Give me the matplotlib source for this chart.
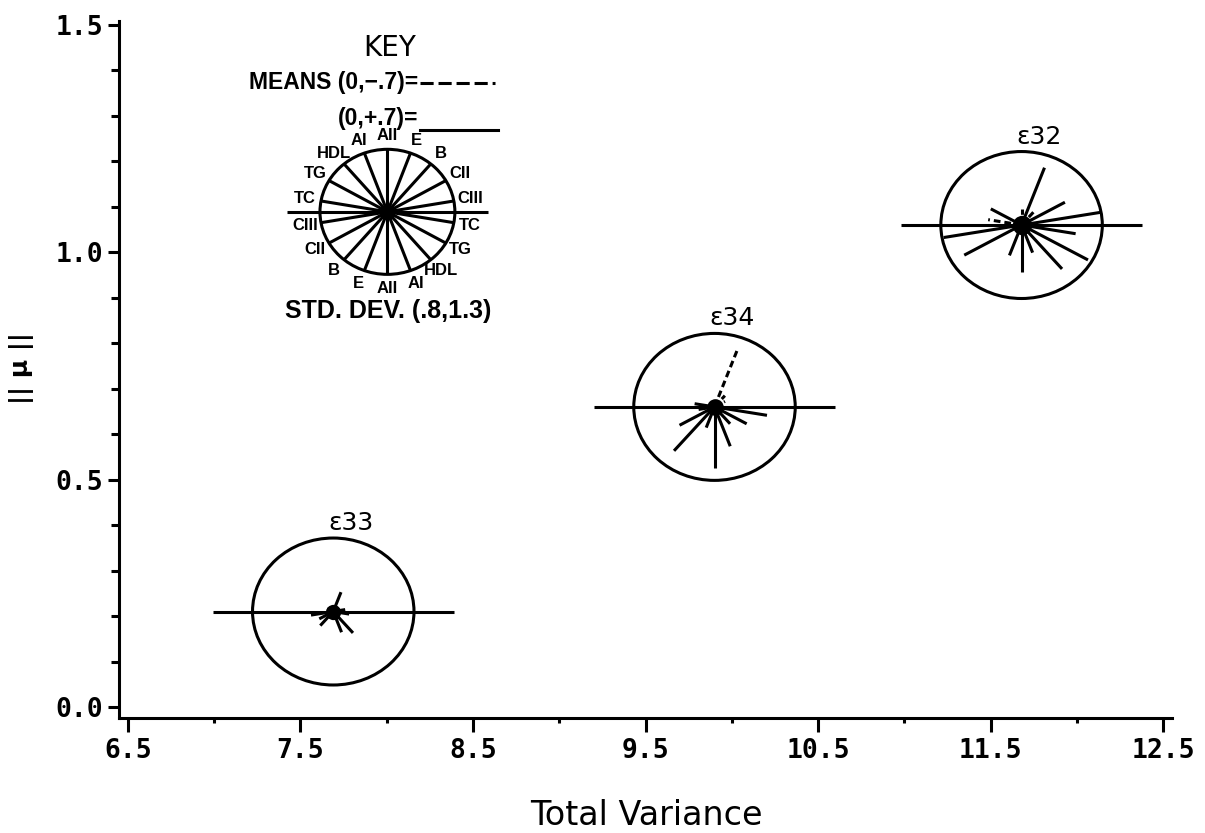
#*******************************************************************************

import numpy               as np
import matplotlib.pyplot   as plt

from matplotlib.patches import Ellipse

# Ray directions (deg) shared by every glyph, and the labels of the key
ray_ang = [  90,   70,   50,   30,   10,  -10,  -30,  -50,  -70,
            -90, -110, -130, -150, -170,  170,  150,  130,  110]
key_lab = ['AII', 'E', 'B', 'CII', 'CIII', 'TC', 'TG', 'HDL', 'AI',
           'AII', 'E', 'B', 'CII', 'CIII', 'TC', 'TG', 'HDL', 'AI']

# Glyph positions
names   = ['ε33', 'ε34', 'ε32']
tot_var = [ 7.69,  9.90, 11.68]
mu_norm = [ 0.21,  0.66,  1.06]

# Ray lengths (fraction of the circle), negative = dashed
ray_e33 = [ 0.00,  0.28,  0.00, -0.12,  0.15,  0.20,  0.00,  0.38,  0.30,
            0.00,  0.00,  0.25,  0.20,  0.28,  0.00, -0.12,  0.00,  0.00]
ray_e34 = [-0.12, -0.83, -0.20, -0.15,  0.00,  0.66,  0.46,  0.30,  0.57,
            0.83,  0.30,  0.78,  0.50,  0.20,  0.25,  0.00,  0.00,  0.00]
ray_e32 = [-0.22,  0.83, -0.25,  0.62,  1.00,  0.68,  0.95,  0.78,  0.40,
            0.64,  0.44,  0.00,  0.82,  0.98, -0.42,  0.44,  0.00,  0.00]
ray_key = [ 1.00]*18

xticks = [6.5, 7.5, 8.5, 9.5, 10.5, 11.5, 12.5]
yticks = [0.0, 0.5, 1.0, 1.5]

#*******************************************************************************

LW   = 2.2
DASH = (0, (2.2, 1.3))

RX, RY, HL = 0.468, 0.1616, 0.70          # glyph circle + axis half length
KX, KY     = 8.004, 1.089                  # key centre
KRX, KRY, KHL = 0.391, 0.1375, 0.583


def draw_glyph(ax, cx, cy, rx, ry, hl, lens, blob):
  ax.add_patch(Ellipse((cx, cy), 2*rx, 2*ry, fill=False, ec='k', lw=LW))
  ax.plot([cx-hl, cx+hl], [cy, cy], color='k', lw=LW, solid_capstyle='butt')
  for ang, ln in zip(ray_ang, lens):
    if ln == 0:
      continue
    t  = np.deg2rad(ang)
    ex = cx + abs(ln)*rx*np.cos(t)
    ey = cy + abs(ln)*ry*np.sin(t)
    ax.plot([cx, ex], [cy, ey], color='k', lw=LW,
            ls=(DASH if ln < 0 else '-'), solid_capstyle='butt')
  ax.plot(cx, cy, 'o', color='k', ms=blob, mew=0)


fig01 = plt.figure(figsize=(12.05, 8.33), dpi=100)
axs01 = fig01.add_axes([119/1205, 1-718/833, 1053/1205, 697/833])

axs01.set_xlim(6.448, 12.552)
axs01.set_ylim(-0.0242, 1.5087)

for sp in ['top', 'right']:
  axs01.spines[sp].set_visible(False)
for sp in ['left', 'bottom']:
  axs01.spines[sp].set_linewidth(LW)

tfont = dict(family='DejaVu Sans Mono', weight='bold', size=19)
axs01.set_xticks(xticks, labels=['{:.1f}'.format(v) for v in xticks], **tfont)
axs01.set_yticks(yticks, labels=['{:.1f}'.format(v) for v in yticks], **tfont)
axs01.set_xticks(np.arange(7.0, 12.5, 1.0), minor=True)
axs01.set_yticks(np.arange(0.1, 1.5, 0.1), minor=True)
axs01.tick_params(axis='x', which='major', direction='out', length=10, width=LW, pad=4.3)
axs01.tick_params(axis='x', which='minor', direction='out', length=3.6, width=LW)
axs01.tick_params(axis='y', which='major', direction='out', length=8, width=LW, pad=3.6)
axs01.tick_params(axis='y', which='minor', direction='out', length=6, width=LW)

# Glyphs
for nm, cx, cy, rl, bl in zip(names, tot_var, mu_norm,
                              [ray_e33, ray_e34, ray_e32], [11, 12, 14]):
  draw_glyph(axs01, cx, cy, RX, RY, HL, rl, bl)
  axs01.text(cx+0.10, cy+RY+0.033, nm, ha='center', va='center',
             family='DejaVu Sans', size=18)

# Key
draw_glyph(axs01, KX, KY, KRX, KRY, KHL, ray_key, 11)
for ang, lb in zip(ray_ang, key_lab):
  t = np.deg2rad(ang)
  axs01.text(KX + 1.24*KRX*np.cos(t), KY + 1.22*KRY*np.sin(t), lb,
             ha='center', va='center', family='Liberation Sans',
             weight='bold', size=12)

kfont = dict(family='Liberation Sans', weight='bold', size=16.5)
axs01.text(KX+0.015, KY+0.360, 'KEY', ha='center', va='center',
           family='DejaVu Sans', size=20)
axs01.text(KX+0.177, KY+0.2844, 'MEANS (0,\u2212.7)=', ha='right', va='center', **kfont)
axs01.plot([KX+0.189, KX+0.624], [KY+0.284, KY+0.284], color='k', lw=LW,
           ls=(0, (4.3, 1.6)))
axs01.text(KX+0.177, KY+0.2063, '(0,+.7)=', ha='right', va='center', **kfont)
axs01.plot([KX+0.189, KX+0.641], [KY+0.180, KY+0.180], color='k', lw=LW)
axs01.text(KX+0.003, KY-0.218, 'STD. DEV. (.8,1.3)', ha='center', va='center',
           family='Liberation Sans', weight='bold', size=18)

# Axis labels
fig01.text(646/1205, 1-825/833, 'Total Variance', ha='center', va='baseline',
           family='DejaVu Sans', size=24)
fig01.text(22/1205, 1-368/833, '|| μ ||', ha='center', va='center', rotation=90,
           family='DejaVu Sans', weight='bold', size=18)

plt.savefig('out.png', dpi=100)
plt.close()

#*******************************************************************************
